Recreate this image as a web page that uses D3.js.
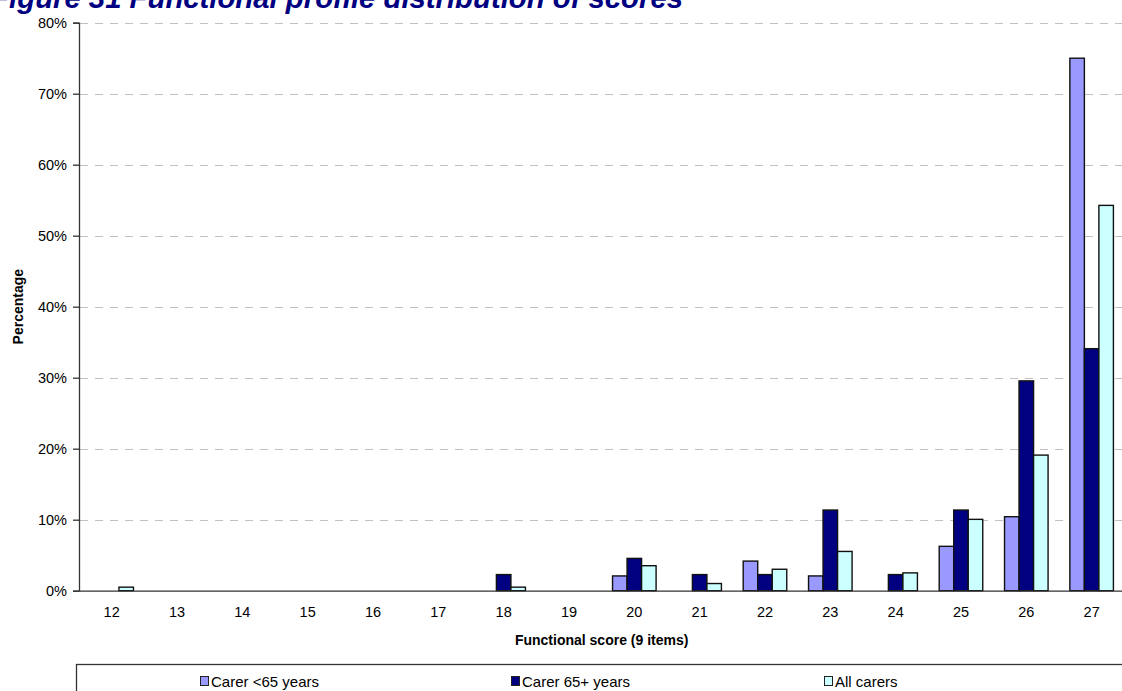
<!DOCTYPE html>
<html>
<head>
<meta charset="utf-8">
<script src="https://cdn.jsdelivr.net/npm/d3@7"></script>
<style>
  html, body { margin: 0; padding: 0; background: #fff; }
  svg { display: block; font-family: "Liberation Sans", Arial, sans-serif; }
</style>
</head>
<body>
<svg id="chart" width="1122" height="691"></svg>
<script>
// Functional score categories (9-item scale)
const categories = ["12","13","14","15","16","17","18","19","20","21","22","23","24","25","26","27"];

// Percentage of carers at each score
const carerUnder65 = [0,0,0,0,0,0,0,0,2.08,0,4.17,2.08,0,6.25,10.42,75.0];
const carer65Plus  = [0,0,0,0,0,0,2.27,0,4.55,2.27,2.27,11.36,2.27,11.36,29.55,34.09];
const allCarers    = [0.50,0,0,0,0,0,0.50,0,3.52,1.01,3.02,5.53,2.51,10.05,19.10,54.27];

const seriesNames  = ["Carer <65 years","Carer 65+ years","All carers"];
const seriesColors = ["#9999FF","#000080","#CCFFFF"];
const yTicks = [0,10,20,30,40,50,60,70,80];

const titleText = "Figure 31 Functional profile distribution of scores";
const xTitle = "Functional score (9 items)";
const yTitle = "Percentage";

const seriesValues = [carerUnder65, carer65Plus, allCarers];
const rows = categories.map((c, i) => ({
  category: c,
  values: seriesNames.map((s, k) => ({ series: s, value: seriesValues[k][i], color: seriesColors[k] }))
}));

const svg = d3.select("#chart");
const W = 1122, H = 691;
const plot = { left: 79, right: 1124.3, top: 22.7, bottom: 590.7 };

svg.append("rect").attr("width", W).attr("height", H).attr("fill", "#fff");

const x = d3.scaleBand().domain(categories).range([plot.left, plot.right]).paddingInner(0).paddingOuter(0);
const xs = d3.scaleBand().domain(seriesNames).range([0, x.bandwidth()]).paddingInner(0).paddingOuter(0.75);
const y = d3.scaleLinear().domain([0, 80]).range([plot.bottom, plot.top]);

// dashed horizontal gridlines
svg.append("g")
  .selectAll("line")
  .data(yTicks.filter(t => t > 0))
  .join("line")
  .attr("x1", plot.left + 1).attr("x2", W)
  .attr("y1", d => Math.round(y(d)) + 0.5).attr("y2", d => Math.round(y(d)) + 0.5)
  .attr("stroke", "#c0c0c0").attr("stroke-width", 1)
  .attr("stroke-dasharray", "8,7");

// bars
const groups = svg.append("g").selectAll("g")
  .data(rows).join("g")
  .attr("transform", d => `translate(${x(d.category)},0)`);

groups.selectAll("rect")
  .data(d => d.values.filter(v => v.value > 0))
  .join("rect")
  .attr("x", d => xs(d.series))
  .attr("width", xs.bandwidth())
  .attr("y", d => y(d.value))
  .attr("height", d => y(0) - y(d.value))
  .attr("fill", d => d.color)
  .attr("stroke", "#111")
  .attr("stroke-width", 1.4);

// y axis
const yAxis = d3.axisLeft(y)
  .tickValues(yTicks)
  .tickFormat(d => d + "%")
  .tickSize(6)
  .tickPadding(6);
const gy = svg.append("g").attr("transform", `translate(${plot.left},0)`).call(yAxis);
gy.select(".domain").attr("stroke", "#333").attr("stroke-width", 1.3);
gy.selectAll(".tick line").attr("stroke", "#333").attr("stroke-width", 1.3);
gy.selectAll(".tick text").attr("font-size", 14.5).attr("fill", "#000")
  .attr("font-family", "Liberation Sans, Arial, sans-serif");

// x axis (no tick marks)
const xAxis = d3.axisBottom(x).tickSize(0).tickPadding(16);
const gx = svg.append("g").attr("transform", `translate(0,${plot.bottom})`).call(xAxis);
gx.select(".domain").attr("stroke", "#333").attr("stroke-width", 1.3);
gx.selectAll(".tick text").attr("font-size", 14.5).attr("fill", "#000")
  .attr("font-family", "Liberation Sans, Arial, sans-serif");

// axis titles
svg.append("text")
  .attr("x", (plot.left + plot.right) / 2).attr("y", 645)
  .attr("text-anchor", "middle")
  .attr("font-size", 14).attr("font-weight", "bold")
  .text(xTitle);

svg.append("text")
  .attr("transform", `translate(23,${(plot.top + plot.bottom) / 2}) rotate(-90)`)
  .attr("text-anchor", "middle")
  .attr("font-size", 14).attr("font-weight", "bold")
  .text(yTitle);

// chart title, running off the top-left corner
svg.append("text")
  .attr("x", 683).attr("y", 8)
  .attr("text-anchor", "end")
  .attr("font-size", 29.3).attr("font-weight", "bold").attr("font-style", "italic")
  .attr("fill", "#000080")
  .text(titleText);

// legend box
const legend = svg.append("g");
legend.append("rect")
  .attr("x", 76.5).attr("y", 664.5)
  .attr("width", W).attr("height", 60)
  .attr("fill", "#fff").attr("stroke", "#333").attr("stroke-width", 1.3);

const legendX = [200, 511, 824];
const items = legend.selectAll("g.item")
  .data(seriesNames.map((s, k) => ({ name: s, color: seriesColors[k], x: legendX[k] })))
  .join("g").attr("class", "item")
  .attr("transform", d => `translate(${d.x},676)`);
items.append("rect")
  .attr("x", 0.5).attr("y", 0.5).attr("width", 8).attr("height", 9)
  .attr("fill", d => d.color).attr("stroke", "#222").attr("stroke-width", 1);
items.append("text")
  .attr("x", 11).attr("y", 10.5)
  .attr("font-size", 15)
  .text(d => d.name);
</script>
</body>
</html>
